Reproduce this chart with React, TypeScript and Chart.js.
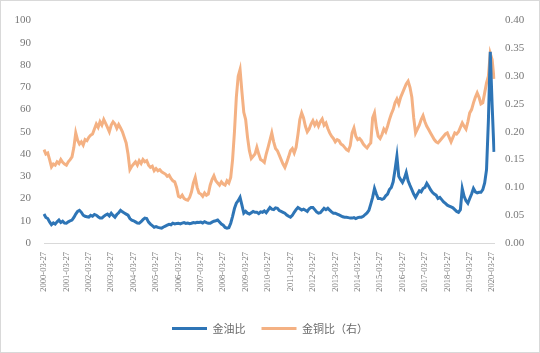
import React, { useEffect, useRef } from 'react';
import { Chart, registerables } from 'chart.js';

Chart.register(...registerables);

// 金油比 (left axis), monthly readings from 2000-03 to 2020-04
const goldOil: number[] = [
  13.0, 11.5, 11.0, 9.5, 8.2, 9.0, 8.5, 9.5, 10.3, 9.2, 9.8, 9.0,
  8.9, 9.5, 10.0, 10.3, 11.5, 13.0, 14.2, 14.7, 13.8, 12.5, 12.0, 11.8,
  11.6, 12.4, 12.0, 12.8, 12.5, 11.8, 11.2, 11.2, 12.0, 12.6, 13.0, 12.2,
  13.4, 12.4, 11.6, 12.8, 13.6, 14.7, 14.0, 13.5, 13.0, 12.5, 11.0, 10.3,
  10.0, 9.5, 9.0, 8.9, 9.6, 10.5, 11.2, 11.0, 9.4, 8.5, 7.8, 7.1,
  7.4, 7.0, 6.8, 6.7, 7.2, 7.6, 8.0, 8.4, 8.2, 8.9, 8.6, 8.8,
  8.9, 8.6, 8.9, 9.2, 8.8, 9.0, 8.7, 8.9, 9.2, 9.0, 9.3, 9.2,
  9.4, 9.0, 9.6, 9.2, 8.9, 8.9, 9.4, 9.8, 10.0, 10.3, 9.4, 8.5,
  8.0, 7.0, 6.7, 6.9, 8.9, 12.0, 15.5, 17.9, 19.0, 20.5, 17.0, 13.4,
  14.2, 13.4, 13.0, 13.6, 14.2, 13.8, 13.8, 13.2, 14.0, 13.8, 14.4, 13.6,
  14.8, 16.0, 15.2, 15.0, 15.8, 15.6, 14.6, 14.2, 13.8, 13.4, 12.6, 12.0,
  11.6, 12.4, 13.8, 15.0, 16.0, 15.4, 14.8, 15.2, 14.7, 14.2, 15.4, 16.0,
  16.0, 15.0, 14.0, 13.4, 13.6, 14.6, 15.6, 15.0, 15.6, 14.8, 14.0, 13.4,
  13.4, 13.0, 12.6, 12.2, 11.8, 11.6, 11.6, 11.4, 11.2, 11.2, 11.4, 11.0,
  11.4, 11.6, 11.6, 12.0, 12.8, 13.5, 14.7, 17.5, 20.5, 24.5, 22.0, 20.0,
  20.0, 19.6, 20.0, 21.2, 22.0, 24.0, 25.0, 27.5, 33.0, 39.0, 30.0, 28.5,
  27.2, 29.0, 31.7, 28.0, 25.9, 24.0, 22.0, 20.5, 22.0, 23.5, 23.0, 24.5,
  25.0, 26.8, 25.5, 24.0, 22.8, 22.0, 21.5, 20.0, 20.5, 19.5, 18.5, 17.8,
  17.0, 16.6, 16.2, 15.8, 15.0, 14.2, 13.8, 15.0, 24.5, 21.0, 19.0, 17.9,
  20.0, 22.0, 24.5, 23.0, 22.5, 22.8, 22.8, 24.0, 27.0, 33.0, 55.0, 86.0, 62.0, 41.0,
];

// 金铜比（右） (right axis)
const goldCopper: number[] = [
  0.168, 0.160, 0.162, 0.150, 0.137, 0.142, 0.140, 0.146, 0.143, 0.150, 0.145, 0.142,
  0.140, 0.146, 0.150, 0.155, 0.172, 0.198, 0.185, 0.178, 0.182, 0.176, 0.186, 0.184,
  0.190, 0.194, 0.196, 0.205, 0.214, 0.208, 0.218, 0.212, 0.222, 0.215, 0.208, 0.200,
  0.212, 0.218, 0.214, 0.206, 0.213, 0.207, 0.200, 0.190, 0.180, 0.160, 0.132, 0.138,
  0.142, 0.146, 0.140, 0.148, 0.143, 0.150, 0.146, 0.148, 0.140, 0.136, 0.138, 0.130,
  0.134, 0.130, 0.132, 0.128, 0.126, 0.124, 0.120, 0.122, 0.116, 0.112, 0.110, 0.100,
  0.084, 0.082, 0.086, 0.080, 0.078, 0.077, 0.082, 0.092, 0.108, 0.118, 0.100, 0.090,
  0.088, 0.084, 0.090, 0.086, 0.088, 0.104, 0.114, 0.121, 0.112, 0.108, 0.104, 0.110,
  0.106, 0.104, 0.112, 0.108, 0.118, 0.150, 0.200, 0.262, 0.300, 0.312, 0.272, 0.235,
  0.222, 0.190, 0.166, 0.152, 0.156, 0.160, 0.172, 0.160, 0.150, 0.148, 0.145, 0.160,
  0.172, 0.185, 0.198, 0.182, 0.170, 0.166, 0.158, 0.150, 0.142, 0.136, 0.145, 0.155,
  0.166, 0.170, 0.162, 0.172, 0.195, 0.222, 0.234, 0.225, 0.210, 0.200, 0.205, 0.214,
  0.220, 0.212, 0.218, 0.210, 0.218, 0.223, 0.212, 0.216, 0.206, 0.198, 0.192, 0.188,
  0.182, 0.186, 0.184, 0.178, 0.176, 0.172, 0.168, 0.166, 0.175, 0.198, 0.207, 0.192,
  0.186, 0.188, 0.184, 0.178, 0.174, 0.171, 0.176, 0.180, 0.225, 0.234, 0.208, 0.192,
  0.188, 0.195, 0.205, 0.200, 0.210, 0.222, 0.232, 0.240, 0.252, 0.259, 0.250, 0.262,
  0.270, 0.278, 0.286, 0.291, 0.280, 0.262, 0.225, 0.198, 0.205, 0.212, 0.222, 0.229,
  0.218, 0.210, 0.204, 0.198, 0.192, 0.186, 0.182, 0.180, 0.184, 0.188, 0.192, 0.196,
  0.198, 0.190, 0.182, 0.190, 0.198, 0.196, 0.200, 0.208, 0.216, 0.210, 0.205, 0.218,
  0.234, 0.240, 0.252, 0.262, 0.270, 0.262, 0.250, 0.252, 0.270, 0.288, 0.300, 0.341, 0.330, 0.295,
];

const seriesNames = ['金油比', '金铜比（右）'];
const seriesColors = ['#2E75B6', '#F4B183'];

// monthly category dates; a tick label is shown for each March
const dateLabels: string[] = [];
{
  let y = 2000;
  let m = 3;
  while (dateLabels.length < goldOil.length) {
    dateLabels.push(`${y}-${String(m).padStart(2, '0')}-27`);
    m += 1;
    if (m > 12) { m = 1; y += 1; }
  }
}

const textColor = '#777777';
const numFont = "'Liberation Serif', 'Times New Roman', serif";

export default function App() {
  const ref = useRef<HTMLCanvasElement | null>(null);

  useEffect(() => {
    if (!ref.current) return;
    const chart = new Chart(ref.current, {
      type: 'line',
      data: {
        labels: dateLabels,
        datasets: [
          {
            label: seriesNames[0],
            data: goldOil,
            borderColor: seriesColors[0],
            backgroundColor: seriesColors[0],
            borderWidth: 3,
            pointRadius: 0,
            tension: 0,
            yAxisID: 'y',
          },
          {
            label: seriesNames[1],
            data: goldCopper,
            borderColor: seriesColors[1],
            backgroundColor: seriesColors[1],
            borderWidth: 3,
            pointRadius: 0,
            tension: 0,
            yAxisID: 'y1',
          },
        ],
      },
      options: {
        responsive: false,
        animation: false,
        devicePixelRatio: 1,
        layout: { padding: { top: 18, bottom: 8, left: 0, right: 0 } },
        plugins: {
          tooltip: { enabled: false },
          legend: {
            position: 'bottom',
            labels: {
              boxWidth: 35,
              boxHeight: 3,
              padding: 16,
              color: '#6a6a6a',
              font: { family: "'Noto Sans CJK SC', sans-serif", size: 11 },
              generateLabels: (c: any) =>
                Chart.defaults.plugins.legend.labels
                  .generateLabels(c)
                  .map((it: any, i: number) => ({ ...it, lineWidth: 0, fillStyle: seriesColors[i], strokeStyle: seriesColors[i] })),
            },
          },
        },
        scales: {
          x: {
            type: 'category',
            offset: false,
            grid: { display: false, drawTicks: false },
            border: { display: true, color: '#d9d9d9', width: 1 },
            ticks: {
              autoSkip: false,
              minRotation: 90,
              maxRotation: 90,
              padding: 9,
              color: textColor,
              font: { family: numFont, size: 8.5 },
              callback: (_v: any, i: number) => (dateLabels[i].slice(5, 7) === '03' ? dateLabels[i] : null),
            },
            afterFit: (s: any) => { s.height = 64; },
          },
          y: {
            position: 'left',
            min: 0,
            max: 100,
            grid: { display: false, drawTicks: false },
            border: { display: false },
            ticks: {
              stepSize: 10,
              padding: 13,
              color: textColor,
              font: { family: numFont, size: 11 },
            },
            afterFit: (s: any) => { s.width = 43; },
          },
          y1: {
            position: 'right',
            min: 0,
            max: 0.4,
            grid: { display: false, drawTicks: false },
            border: { display: false },
            ticks: {
              stepSize: 0.05,
              padding: 11,
              color: textColor,
              font: { family: numFont, size: 11 },
              callback: (v: any) => Number(v).toFixed(2),
            },
            afterFit: (s: any) => { s.width = 45; },
          },
        },
      },
    });
    return () => chart.destroy();
  }, []);

  return (
    <div
      style={{
        position: 'absolute',
        left: 0,
        top: 0,
        width: 540,
        height: 353,
        boxSizing: 'border-box',
        border: '1px solid #d9d9d9',
        background: '#ffffff',
      }}
    >
      <canvas ref={ref} width={538} height={351} style={{ display: 'block', width: 538, height: 351 }} />
    </div>
  );
}
